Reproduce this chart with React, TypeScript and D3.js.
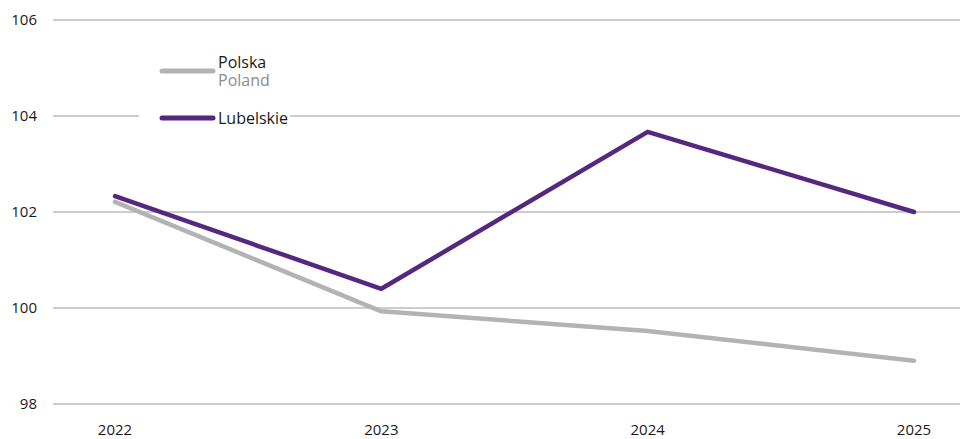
import React from "react";
import * as d3 from "d3";

const years = ["2022", "2023", "2024", "2025"];
const polska = [102.21, 99.93, 99.52, 98.9];
const lubelskie = [102.33, 100.4, 103.67, 102.0];
const yTicks = [98, 100, 102, 104, 106];

const W = 960;
const H = 439;

export default function App() {
  const x = d3.scalePoint<string>().domain(years).range([115, 914]);
  const y = d3.scaleLinear().domain([98, 106]).range([404, 20]);
  const line = d3
    .line<number>()
    .x((_, i) => x(years[i]) as number)
    .y((d) => y(d));
  const font = "'Open Sans', 'Noto Sans', sans-serif";
  return (
    <svg
      width={W}
      height={H}
      style={{ position: "absolute", left: 0, top: 0, background: "#fff" }}
      fontFamily={font}
    >
      {yTicks.map((t) => (
        <g key={t}>
          <line x1={53} x2={960} y1={y(t)} y2={y(t)} stroke="#9a9a9a" strokeWidth={1} />
          <text x={37} y={y(t)} dy="0.35em" textAnchor="end" fontSize={15} fill="#1a1a1a">
            {t}
          </text>
        </g>
      ))}
      {years.map((yr) => (
        <text key={yr} x={x(yr)} y={435} textAnchor="middle" fontSize={15} fill="#1a1a1a">
          {yr}
        </text>
      ))}
      <rect x={139} y={100} width={151} height={30} fill="#fff" />
      <path d={line(polska) || ""} fill="none" stroke="#b3b3b3" strokeWidth={4.5} strokeLinejoin="round" strokeLinecap="round" />
      <path d={line(lubelskie) || ""} fill="none" stroke="#55287f" strokeWidth={4.5} strokeLinejoin="round" strokeLinecap="round" />
      <line x1={162} x2={213} y1={71} y2={71} stroke="#b3b3b3" strokeWidth={5} strokeLinecap="round" />
      <text x={218} y={68} fontSize={16} fill="#1a1a1a">Polska</text>
      <text x={218} y={86} fontSize={16} fill="#8c8c8c">Poland</text>
      <line x1={162} x2={213} y1={118} y2={118} stroke="#55287f" strokeWidth={5} strokeLinecap="round" />
      <text x={218} y={124} fontSize={16} fill="#1a1a1a">Lubelskie</text>
    </svg>
  );
}
